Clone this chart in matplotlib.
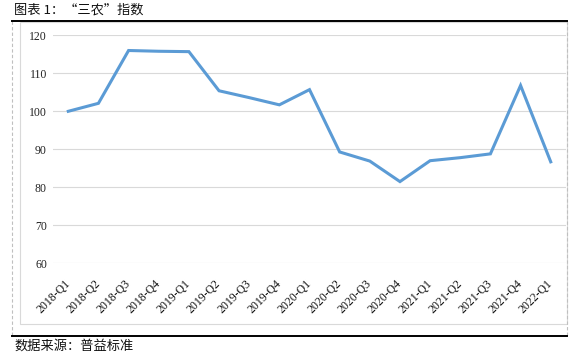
import matplotlib
matplotlib.use("Agg")
import matplotlib.pyplot as plt
from matplotlib.lines import Line2D
from matplotlib.patches import Rectangle

# quarterly labels and index values
quarters = ["2018-Q1", "2018-Q2", "2018-Q3", "2018-Q4",
            "2019-Q1", "2019-Q2", "2019-Q3", "2019-Q4",
            "2020-Q1", "2020-Q2", "2020-Q3", "2020-Q4",
            "2021-Q1", "2021-Q2", "2021-Q3", "2021-Q4",
            "2022-Q1"]
index_values = [100.0, 102.1, 116.0, 115.8,
                115.7, 105.4, 103.6, 101.7,
                105.7, 89.3, 86.9, 81.5,
                87.0, 87.8, 88.8, 106.8,
                86.7]
y_ticks = [60, 70, 80, 90, 100, 110, 120]

plt.rcParams['font.family'] = ['Liberation Serif', 'Noto Sans CJK SC', 'DejaVu Sans']

W, H = 578, 357
fig = plt.figure(figsize=(W / 100, H / 100), dpi=100)

def fx(px):
  return px / W

def fy(py):
  return 1 - py / H

# chart frame (light grey box), dashed side lines, black rules
fig.patches.append(Rectangle((fx(20), fy(324)), fx(567) - fx(20), fy(22) - fy(324),
                             transform=fig.transFigure, fill=False,
                             edgecolor="#d9d9d9", linewidth=0.8))
for xpx in (12, 567):
  fig.lines.append(Line2D([fx(xpx), fx(xpx)], [fy(21), fy(336)], transform=fig.transFigure,
                          color="#bfbfbf", linewidth=0.8, linestyle=(0, (3, 2))))
for ypx in (21, 336):
  fig.lines.append(Line2D([fx(12), fx(567)], [fy(ypx), fy(ypx)], transform=fig.transFigure,
                          color="black", linewidth=1.4))

fig.text(fx(14), fy(10), "图表 1：“三农”指数", fontsize=9.5, va="center", ha="left",
         family=['Noto Sans CJK SC', 'DejaVu Sans'], color="#111111")
fig.text(fx(14), fy(346), "数据来源：普益标准", fontsize=9.5, va="center", ha="left",
         family=['Noto Sans CJK SC', 'DejaVu Sans'], color="#111111")

ax = fig.add_axes([fx(53.2), fy(263.3), fx(565.8) - fx(53.2), fy(35.3) - fy(263.3)])
x = list(range(len(quarters)))
ax.plot(x, index_values, color="#5B9BD5", linewidth=2.2, solid_joinstyle="miter")

ax.set_xlim(-0.5, len(quarters) - 0.5)
ax.set_ylim(60, 120)
ax.set_yticks(y_ticks)
ax.set_yticklabels([str(v) for v in y_ticks], fontsize=8.5, color="#222222")
ax.set_xticks(x)
ax.set_xticklabels(quarters, fontsize=8.5, rotation=45, ha="right", va="center",
                   rotation_mode="anchor", color="#111111")
ax.tick_params(axis="x", length=0, pad=13)
ax.tick_params(axis="y", length=0, pad=4.5)
ax.grid(axis="y", color="#d9d9d9", linewidth=0.8)
ax.set_axisbelow(True)
for s in ax.spines.values():
  s.set_visible(False)

fig.savefig("out.png", dpi=100)
